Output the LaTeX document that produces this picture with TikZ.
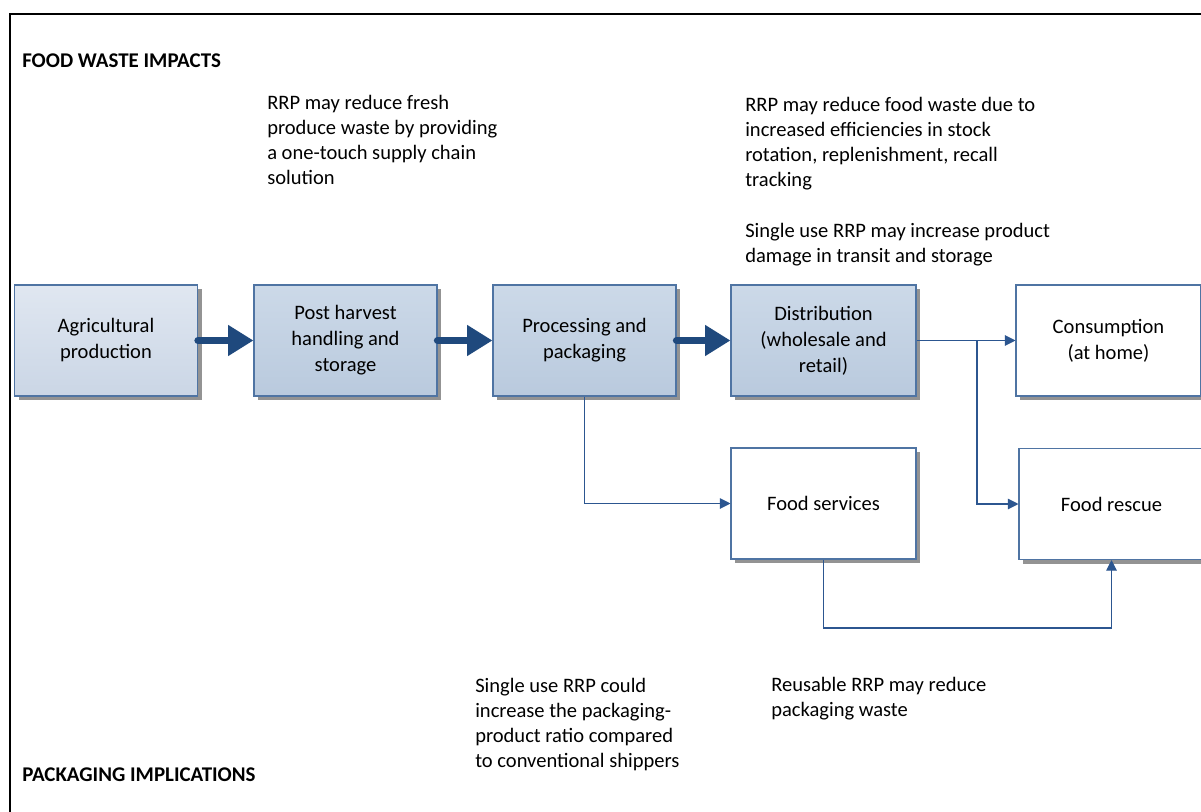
\documentclass[tikz,border=0pt]{standalone}
\usepackage{fontspec}
\setmainfont{Carlito}
\usetikzlibrary{arrows.meta,shadows}
\definecolor{navy}{HTML}{1F497D}
\definecolor{linkc}{HTML}{2C5690}
\definecolor{edge}{HTML}{4F74A3}
\definecolor{shad}{HTML}{939393}
\definecolor{paleblue}{HTML}{E0E7F1}
\definecolor{midblue}{HTML}{CCD9E8}
\tikzset{
  stagebox/.style={draw=edge, line width=0.8pt, minimum width=183*0.75pt, minimum height=111*0.75pt,
    align=center, inner sep=0pt, font=\fontsize{15.4}{19.5}\selectfont,
    drop shadow={shadow xshift=3pt, shadow yshift=-3pt, fill=shad, opacity=1}},
  bluebox/.style={stagebox, top color=#1, bottom color=#1!85!edge},
  whitebox/.style={stagebox, fill=white, minimum width=185*0.75pt},
  thick arrow/.style={draw=navy, line width=5.5pt, line cap=round,
    -{Triangle[length=19pt, width=22pt]}},
  thin arrow/.style={draw=linkc, line width=0.8pt, -{Triangle[length=8pt, width=8pt]}},
  note/.style={anchor=base west, align=left, inner sep=0pt, font=\fontsize{15.4}{18.75}\selectfont},
  heading/.style={anchor=base west, inner sep=0pt, font=\fontsize{15.7}{18}\selectfont\bfseries},
}
\begin{document}
\begin{tikzpicture}[x=0.75pt, y=-0.75pt]
\clip (0,0) rectangle (1201,812);
\fill[white] (0,0) rectangle (1201,812);
% frame
\draw[line width=1.6pt] (10,830) -- (10,14) -- (1220,14);

% headings
\node[heading] (h1) at (22,68) {FOOD WASTE IMPACTS};
\node[heading] (h2) at (22,781) {PACKAGING IMPLICATIONS};

% stage boxes
\node[bluebox=paleblue] (agri) at (106,340.5) {Agricultural\\production};
\node[bluebox=midblue] (post) at (345.5,340.5) {Post harvest\\handling and\\storage};
\node[bluebox=midblue] (proc) at (584.5,340.5) {Processing and\\packaging};
\node[bluebox=midblue, minimum width=185*0.75pt] (dist) at (823.5,340.5) {Distribution\\(wholesale and\\retail)};
\node[whitebox] (cons) at (1108.5,340.5) {Consumption\\(at home)};
\node[whitebox] (fserv) at (823.5,503.5) {Food services};
\node[whitebox] (resc) at (1111.5,504) {Food rescue};

% thick flow arrows
\draw[thick arrow] (agri.east) -- (post.west);
\draw[thick arrow] (post.east) -- (proc.west);
\draw[thick arrow] (proc.east) -- (dist.west);

% thin connectors
\coordinate (split) at (977,340.5);
\draw[thin arrow] (dist.east) -- (cons.west);
\draw[thin arrow] (split) |- (resc.west);
\draw[thin arrow] (proc.south) |- (fserv.west);
\coordinate (low) at (823.5,628);
\draw[thin arrow] (fserv.south) -- (low) -| (resc.south);

% annotations (anchored at the baseline of their last line)
\node[note] (n1) at (267,185) {RRP may reduce fresh\\produce waste by providing\\a one-touch supply chain\\solution};
\node[note] (n2) at (745,187) {RRP may reduce food waste due to\\increased efficiencies in stock\\rotation, replenishment, recall\\tracking};
\node[note] (n3) at (745,263) {Single use RRP may increase product\\damage in transit and storage};
\node[note] (n4) at (475,767) {Single use RRP could\\increase the packaging-\\product ratio compared\\to conventional shippers};
\node[note] (n5) at (771,716) {Reusable RRP may reduce\\packaging waste};
\end{tikzpicture}
\end{document}
